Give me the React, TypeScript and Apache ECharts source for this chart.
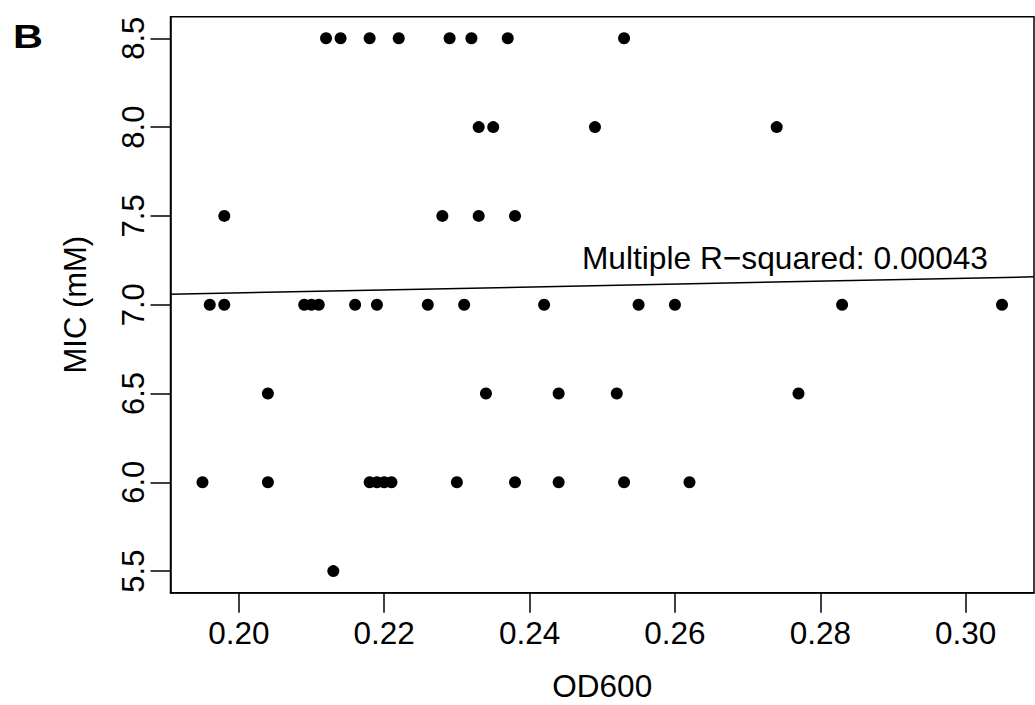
import React, { useEffect, useRef } from "react";
import * as echarts from "echarts";

// OD600 values for each MIC level (mM)
const mic85 = [0.212, 0.214, 0.218, 0.222, 0.229, 0.232, 0.237, 0.253];
const mic80 = [0.233, 0.235, 0.249, 0.274];
const mic75 = [0.198, 0.228, 0.233, 0.238];
const mic70 = [0.196, 0.198, 0.209, 0.21, 0.211, 0.216, 0.219, 0.226, 0.231, 0.242, 0.255, 0.26, 0.283, 0.305];
const mic65 = [0.204, 0.234, 0.244, 0.252, 0.277];
const mic60 = [0.195, 0.204, 0.218, 0.219, 0.22, 0.221, 0.23, 0.238, 0.244, 0.253, 0.262];
const mic55 = [0.213];

const micLevels = [8.5, 8.0, 7.5, 7.0, 6.5, 6.0, 5.5];
const odByLevel = [mic85, mic80, mic75, mic70, mic65, mic60, mic55];

// fitted regression line
const fitX = [0.1906, 0.3094];
const fitY = [7.059, 7.157];

const xTicks = [0.2, 0.22, 0.24, 0.26, 0.28, 0.3];
const yTicks = [5.5, 6.0, 6.5, 7.0, 7.5, 8.0, 8.5];

const rSquaredText = "Multiple R\u2212squared: 0.00043";
const panelLabel = "B";

const FONT = "'Liberation Sans', Arial, Helvetica, sans-serif";

export default function App() {
  const ref = useRef<HTMLDivElement>(null);

  useEffect(() => {
    if (!ref.current) return;
    const chart = echarts.init(ref.current, null, { renderer: "svg" });

    const points: number[][] = [];
    odByLevel.forEach((arr, i) => {
      arr.forEach((x) => points.push([x, micLevels[i]]));
    });

    chart.setOption({
      animation: false,
      backgroundColor: "#ffffff",
      textStyle: { fontFamily: FONT },
      grid: {
        left: 170.5,
        right: 1,
        top: 16.7,
        bottom: 112.3,
        show: true,
        borderColor: "#000",
        borderWidth: 1.5,
        backgroundColor: "transparent",
        outerBoundsMode: "none",
        containLabel: false,
      },
      xAxis: {
        type: "value",
        min: 0.1906,
        max: 0.3094,
        name: "OD600",
        nameLocation: "middle",
        nameGap: 81,
        nameTextStyle: {
          fontSize: 31.5,
          lineHeight: 24,
          color: "#000",
          fontFamily: FONT,
        },
        axisLine: { show: true, lineStyle: { color: "#000", width: 1.5 } },
        axisTick: {
          show: true,
          length: 20,
          customValues: xTicks,
          lineStyle: { color: "#000", width: 1.5 },
        },
        axisLabel: {
          customValues: xTicks,
          margin: 24,
          fontSize: 31.5,
          color: "#000",
          fontFamily: FONT,
          formatter: (v: number) => v.toFixed(2),
        },
        splitLine: { show: false },
      },
      yAxis: {
        type: "value",
        min: 5.3784,
        max: 8.6216,
        name: "MIC (mM)",
        nameLocation: "middle",
        nameGap: 80,
        nameRotate: 90,
        nameTextStyle: { fontSize: 31, color: "#000", fontFamily: FONT },
        axisLine: { show: true, lineStyle: { color: "#000", width: 1.5 } },
        axisTick: {
          show: true,
          length: 20,
          customValues: yTicks,
          lineStyle: { color: "#000", width: 1.5 },
        },
        axisLabel: {
          customValues: yTicks,
          rotate: 90,
          margin: 22,
          fontSize: 31,
          color: "#000",
          fontFamily: FONT,
          formatter: (v: number) => v.toFixed(1),
        },
        splitLine: { show: false },
      },
      series: [
        {
          type: "scatter",
          data: points,
          symbol: "circle",
          symbolSize: 12,
          itemStyle: { color: "#000", opacity: 1 },
          silent: true,
        },
        {
          type: "line",
          data: fitX.map((x, i) => [x, fitY[i]]),
          showSymbol: false,
          symbol: "none",
          lineStyle: { color: "#000", width: 1.5 },
          silent: true,
        },
      ],
      graphic: [
        {
          type: "text",
          x: 988,
          y: 257.5,
          style: {
            text: rSquaredText,
            fontSize: 31.7,
            fontFamily: FONT,
            fill: "#000",
            textAlign: "right",
            textVerticalAlign: "middle",
          },
        },
        {
          type: "text",
          x: 13,
          y: 36.7,
          scaleX: 1.22,
          style: {
            text: panelLabel,
            fontSize: 34,
            fontWeight: "bold",
            fontFamily: FONT,
            fill: "#000",
            textAlign: "left",
            textVerticalAlign: "middle",
          },
        },
      ],
    });

    return () => chart.dispose();
  }, []);

  return (
    <div
      ref={ref}
      style={{ position: "fixed", left: 0, top: 0, width: 1035, height: 705 }}
    />
  );
}
